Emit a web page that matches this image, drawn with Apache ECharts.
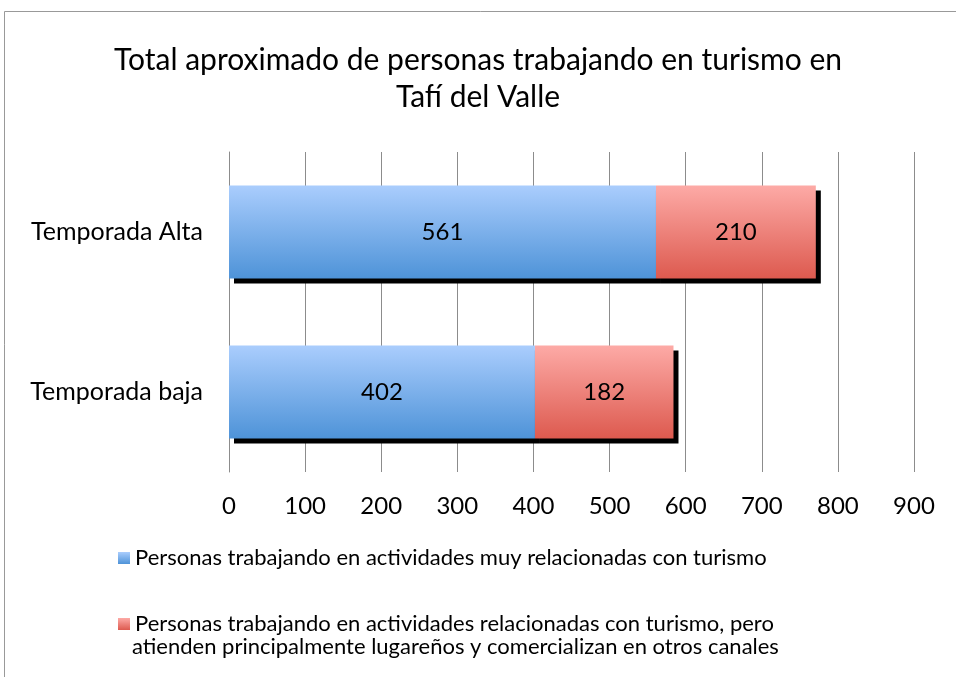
<!DOCTYPE html>
<html>
<head>
<meta charset="utf-8">
<script src="https://cdn.jsdelivr.net/npm/echarts@6/dist/echarts.min.js"></script>
<style>
  html, body { margin: 0; padding: 0; background: #fff; }
  #chart { width: 956px; height: 677px; }
</style>
</head>
<body>
<div id="chart"></div>
<script>
var myChart = echarts.init(document.getElementById('chart'));

const categories = ['Temporada Alta', 'Temporada baja'];
const muyRelacionadas = [561, 402];
const relacionadas = [210, 182];
const seriesNames = [
  'Personas trabajando en actividades muy relacionadas con turismo',
  'Personas trabajando en actividades relacionadas con turismo, pero'
];
const legendSecondLine = 'atienden principalmente lugareños y comercializan en otros canales';

const font = 'Lato';

function grad(top, bottom) {
  return new echarts.graphic.LinearGradient(0, 0, 0, 1, [
    { offset: 0, color: top },
    { offset: 1, color: bottom }
  ]);
}

var barStyle = {
  shadowColor: '#000',
  shadowBlur: 0,
  shadowOffsetX: 5,
  shadowOffsetY: 5
};

var option = {
  backgroundColor: '#fff',
  animation: false,
  title: {
    text: 'Total aproximado de personas trabajando en turismo en\nTafí del Valle',
    left: 'center',
    top: 37,
    textStyle: {
      fontFamily: font,
      fontSize: 30,
      fontWeight: 'normal',
      color: '#000',
      lineHeight: 37
    }
  },
  legend: [
    {
      orient: 'vertical',
      left: 113,
      top: 542,
      itemWidth: 12,
      itemHeight: 12,
      icon: 'rect',
      data: [seriesNames[0]],
      textStyle: { fontFamily: font, fontSize: 22, color: '#000' }
    },
    {
      orient: 'vertical',
      left: 113,
      top: 608,
      itemWidth: 12,
      itemHeight: 12,
      icon: 'rect',
      data: [seriesNames[1]],
      textStyle: { fontFamily: font, fontSize: 22, color: '#000' }
    }
  ],
  graphic: [
    {
      type: 'rect',
      shape: { x: 4.5, y: 11.5, width: 1000, height: 1000 },
      style: { fill: 'none', stroke: '#999', lineWidth: 1 },
      silent: true
    },
    {
      type: 'text',
      left: 132,
      top: 636,
      style: {
        text: legendSecondLine,
        font: '22px ' + font,
        fill: '#000'
      }
    }
  ],
  grid: {
    left: 229,
    right: 42,
    top: 152,
    bottom: 205,
    containLabel: false
  },
  xAxis: {
    type: 'value',
    min: 0,
    max: 900,
    interval: 100,
    axisLine: { show: false },
    axisTick: { show: false },
    splitLine: { show: true, lineStyle: { color: '#8c8c8c', width: 1 } },
    axisLabel: {
      margin: 22,
      fontFamily: font,
      fontSize: 24,
      color: '#000'
    }
  },
  yAxis: {
    type: 'category',
    inverse: true,
    data: categories,
    axisLine: { show: true, lineStyle: { color: '#8c8c8c' } },
    axisTick: { show: false },
    axisLabel: {
      margin: 26,
      fontFamily: font,
      fontSize: 25,
      color: '#000'
    }
  },
  series: [
    {
      name: seriesNames[0],
      type: 'bar',
      stack: 'total',
      barWidth: '58%',
      data: muyRelacionadas,
      itemStyle: Object.assign({ color: grad('#aacdfd', '#4e93d8') }, barStyle),
      label: {
        show: true,
        position: 'inside',
        fontFamily: font,
        fontSize: 24,
        color: '#000'
      }
    },
    {
      name: seriesNames[1],
      type: 'bar',
      stack: 'total',
      barWidth: '58%',
      data: relacionadas,
      itemStyle: Object.assign({ color: grad('#fdaaa6', '#dd5a4f') }, barStyle),
      label: {
        show: true,
        position: 'inside',
        fontFamily: font,
        fontSize: 24,
        color: '#000'
      }
    }
  ]
};

myChart.setOption(option);
</script>
</body>
</html>
